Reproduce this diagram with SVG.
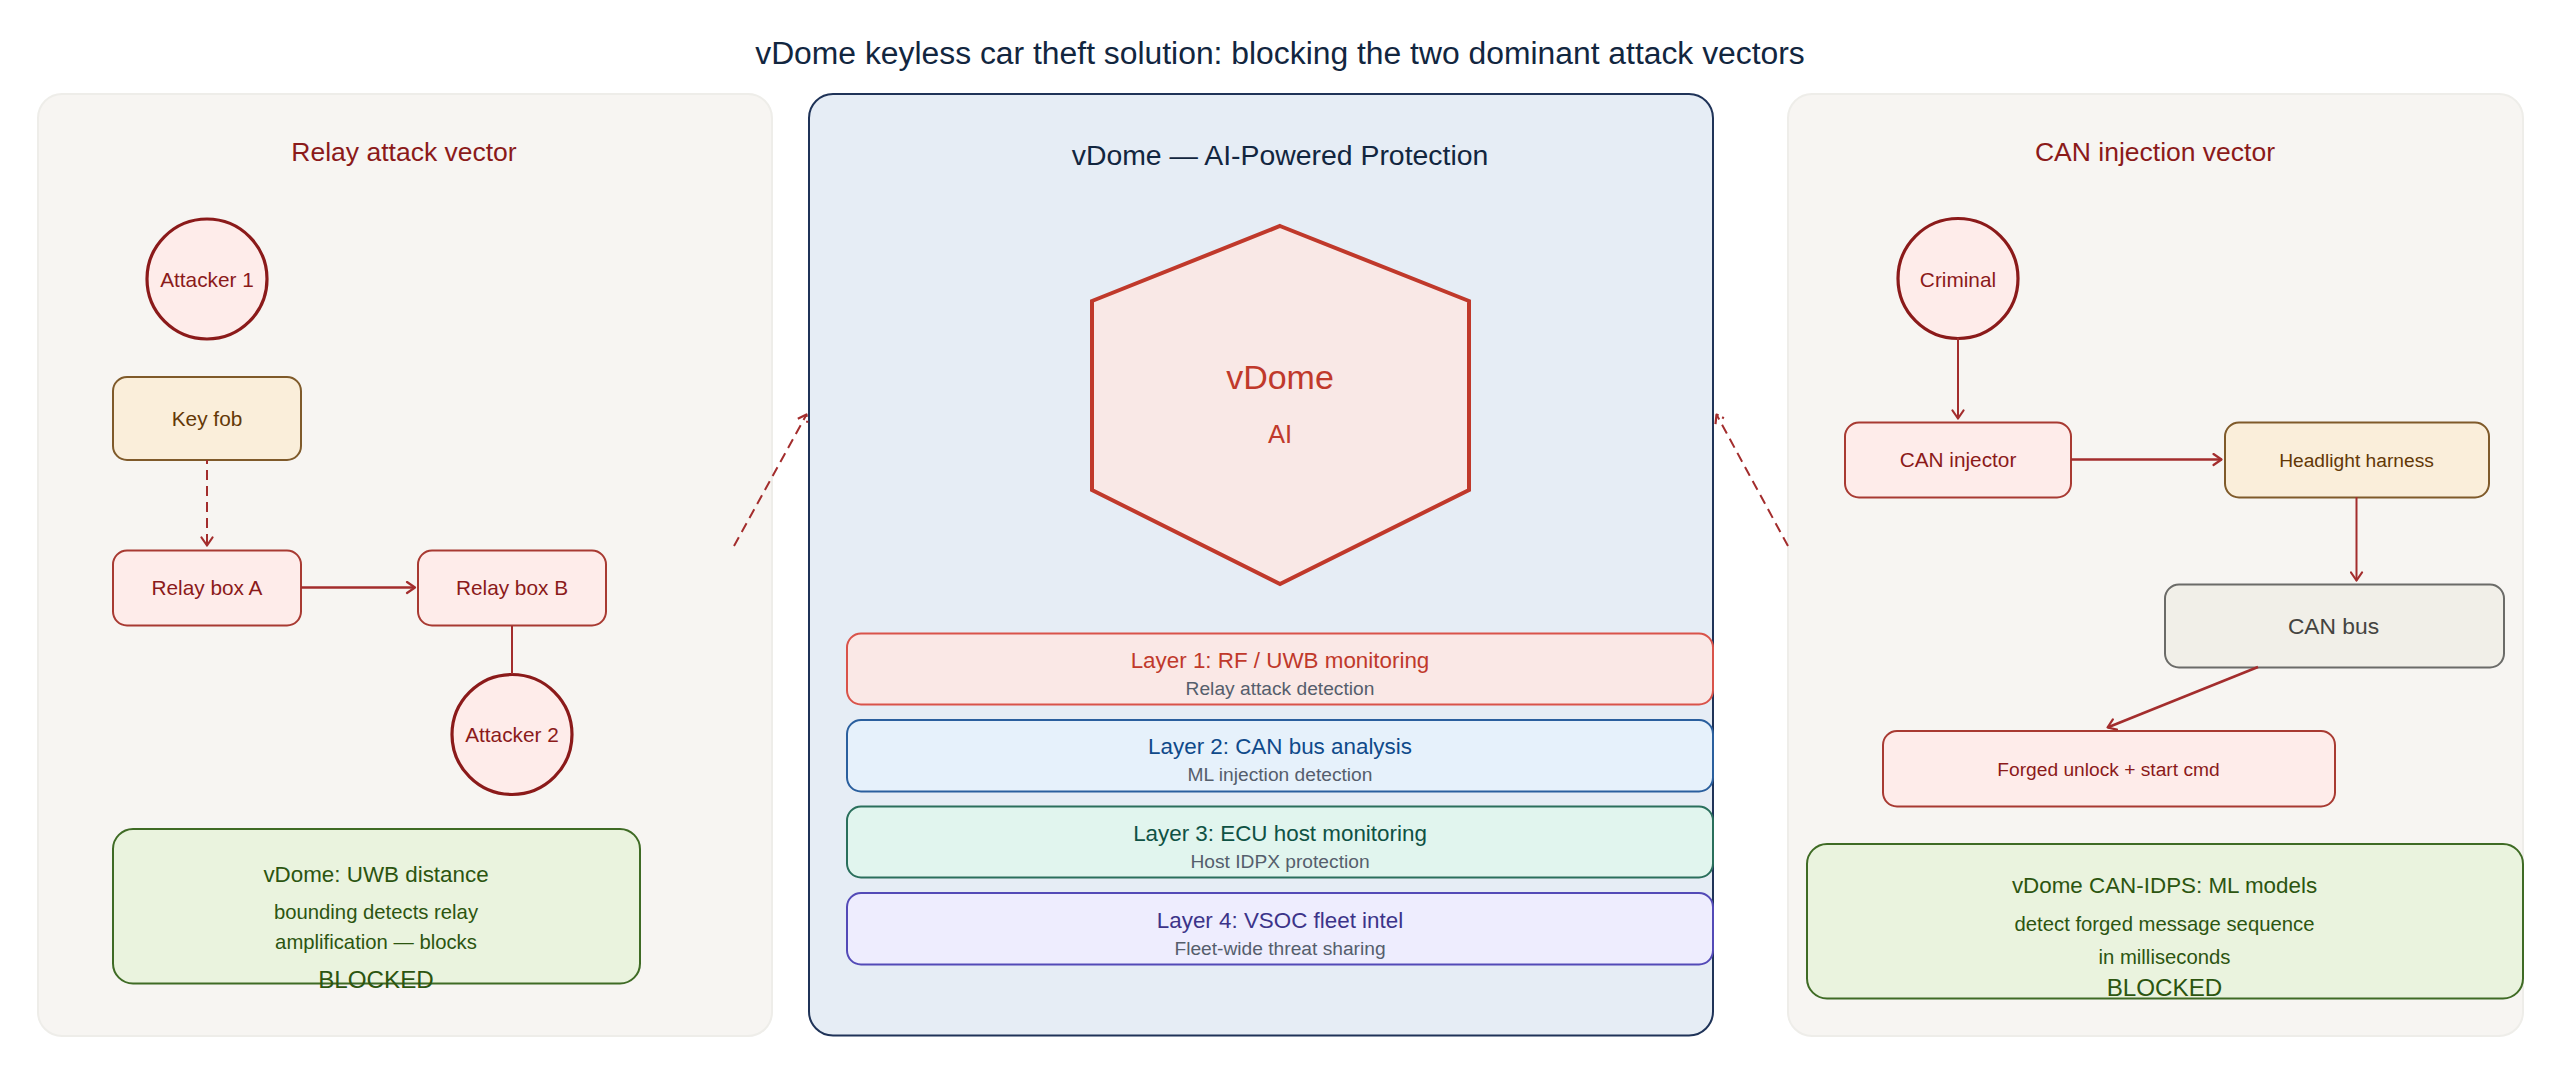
<svg xmlns="http://www.w3.org/2000/svg" width="2560" height="1092" viewBox="0 0 2560 1092">
<style>
text{font-family:"Liberation Sans",Arial,sans-serif;text-anchor:middle}
.panel{fill:#f7f5f2;stroke:#eeede9;stroke-width:2}
.red{fill:#feecea;stroke:#a83a32;stroke-width:2}
.circ{fill:#feecea;stroke:#8b1a1a;stroke-width:3.2}
.amb{fill:#faeeda;stroke:#7f5a2a;stroke-width:2}
.grn{fill:#eaf3de;stroke:#3f6b25;stroke-width:2}
.t-red{fill:#8b1a1a}
.t-amb{fill:#633806}
.t-grn{fill:#2c5510}
.sub{fill:#555e6c;font-size:19.2px}
.lt{font-size:22.400px}
.n{font-size:20.800px}
.g1{font-size:22.400px}
.g2{font-size:20.300px}
.g3{font-size:24.200px}
.c{stroke:#a32d2d;stroke-width:2;fill:none;marker-end:url(#a)}
.h{stroke-width:2.600}
.d{stroke-dasharray:10 6}
.m{marker-end:url(#b)}
.l1{stroke:#d9534a;stroke-width:2;fill:#fae8e6}
.l2{stroke:#2a5f9e;stroke-width:2;fill:#e6f1fb}
.l3{stroke:#2a6f5c;stroke-width:2;fill:#e1f5ee}
.l4{stroke:#534ab7;stroke-width:2;fill:#eeedfe}
</style>
<defs>
<marker id="a" markerUnits="userSpaceOnUse" viewBox="0 0 12 14" refX="10" refY="7" markerWidth="12" markerHeight="14" orient="auto"><path d="M2 1.500L10 7L2 12.500" fill="none" stroke="#a32d2d" stroke-width="2.200" stroke-linecap="round" stroke-linejoin="round"/></marker>
<marker id="b" markerUnits="userSpaceOnUse" viewBox="0 0 12 14" refX="10" refY="7" markerWidth="12" markerHeight="14" orient="auto"><path d="M2 1.500L10 7L2 12.500" fill="none" stroke="#a32d2d" stroke-width="2.200" stroke-dasharray="12 4 2 99" stroke-linejoin="round"/></marker>
</defs>
<text id="title" x="1280" y="63.500" font-size="31.850" fill="#12263f">vDome keyless car theft solution: blocking the two dominant attack vectors</text>
<g id="relay-panel"><rect class="panel" x="38" y="94" width="734" height="942" rx="24"/><text x="404" y="161" font-size="26.500" class="t-red">Relay attack vector</text></g>
<g id="vdome-panel"><rect x="809" y="94" width="904" height="941.500" rx="24" fill="#e6edf5" stroke="#1f3358" stroke-width="2"/><text x="1280" y="165" font-size="28.400" fill="#12263f">vDome — AI-Powered Protection</text></g>
<g id="can-panel"><rect class="panel" x="1788" y="94" width="735" height="942" rx="24"/><text x="2155" y="160.500" font-size="26.500" class="t-red">CAN injection vector</text></g>
<g id="attacker-1"><circle class="circ" cx="207" cy="279" r="60"/><text x="207" y="286.500" class="n t-red">Attacker 1</text></g>
<g id="key-fob"><rect class="amb" x="113" y="377" width="188" height="83" rx="14"/><text x="207" y="426" class="n t-amb">Key fob</text></g>
<g id="relay-a"><rect class="red" x="113" y="550.500" width="188" height="75" rx="14"/><text x="207" y="595" class="n t-red">Relay box A</text></g>
<g id="relay-b"><rect class="red" x="418" y="550.500" width="188" height="75" rx="14"/><text x="512" y="595" class="n t-red">Relay box B</text></g>
<g id="attacker-2"><circle class="circ" cx="512" cy="734.500" r="60"/><text x="512" y="741.500" class="n t-red">Attacker 2</text></g>
<g id="relay-block"><rect class="grn" x="113" y="829" width="527" height="154.500" rx="20"/><text x="376" y="881.500" class="g1 t-grn">vDome: UWB distance</text><text x="376" y="919" class="g2 t-grn">bounding detects relay</text><text x="376" y="949" class="g2 t-grn">amplification — blocks</text><text x="376" y="988" class="g3 t-grn">BLOCKED</text></g>
<g id="hexagon"><polygon points="1280,226 1469,301 1469,490 1280,584 1092,490 1092,301" fill="#f9e8e6" stroke="#c0392b" stroke-width="4"/><text x="1280" y="388.500" font-size="34" fill="#c0392b">vDome</text><text x="1280" y="443" font-size="25.600" fill="#c0392b">AI</text></g>
<g id="layer-1"><rect class="l1" x="847" y="633.500" width="866" height="71" rx="14"/><text x="1280" y="667.500" class="lt" fill="#c0392b">Layer 1: RF / UWB monitoring</text><text x="1280" y="694.500" class="sub">Relay attack detection</text></g>
<g id="layer-2"><rect class="l2" x="847" y="720" width="866" height="71.500" rx="14"/><text x="1280" y="754" class="lt" fill="#0f4a8a">Layer 2: CAN bus analysis</text><text x="1280" y="781" class="sub">ML injection detection</text></g>
<g id="layer-3"><rect class="l3" x="847" y="806.500" width="866" height="71" rx="14"/><text x="1280" y="841" class="lt" fill="#0f5244">Layer 3: ECU host monitoring</text><text x="1280" y="868" class="sub">Host IDPX protection</text></g>
<g id="layer-4"><rect class="l4" x="847" y="893" width="866" height="71.500" rx="14"/><text x="1280" y="927.500" class="lt" fill="#3c3489">Layer 4: VSOC fleet intel</text><text x="1280" y="954.500" class="sub">Fleet-wide threat sharing</text></g>
<g id="criminal"><circle class="circ" cx="1958" cy="278.500" r="60"/><text x="1958" y="286.500" class="n t-red">Criminal</text></g>
<g id="can-injector"><rect class="red" x="1845" y="422.500" width="226" height="75" rx="14"/><text x="1958" y="467" class="n t-red">CAN injector</text></g>
<g id="headlight"><rect class="amb" x="2225" y="422.500" width="264" height="75" rx="14"/><text x="2356.500" y="467" font-size="19.200" class="t-amb">Headlight harness</text></g>
<g id="can-bus"><rect x="2165" y="584.500" width="339" height="83" rx="14" fill="#f1efe8" stroke="#6b6b68" stroke-width="2"/><text x="2333.500" y="633.500" font-size="22.800" fill="#444441">CAN bus</text></g>
<g id="forged"><rect class="red" x="1883" y="731" width="452" height="75.500" rx="14"/><text x="2108.500" y="775.500" font-size="19.200" class="t-red">Forged unlock + start cmd</text></g>
<g id="can-block"><rect class="grn" x="1807" y="844" width="716" height="154.500" rx="20"/><text x="2164.500" y="892.500" class="g1 t-grn">vDome CAN-IDPS: ML models</text><text x="2164.500" y="931" class="g2 t-grn">detect forged message sequence</text><text x="2164.500" y="964" class="g2 t-grn">in milliseconds</text><text x="2164.500" y="995.500" class="g3 t-grn">BLOCKED</text></g>
<g id="connectors">
<path class="c d" stroke-dashoffset="6" style="stroke-dashoffset:6" d="M207 460V545.500"/>
<path class="c h" d="M301 587.500H415"/>
<path class="c" style="marker-end:none" d="M512 626V674"/>
<path class="c d m" d="M734 546L806.500 414.500"/>
<path class="c d m" d="M1788 546L1716.500 414.500"/>
<path class="c" d="M1958 338V418.500"/>
<path class="c h" d="M2071 459.500H2221.500"/>
<path class="c" d="M2356.500 497V580.500"/>
<path class="c h" d="M2258 667L2107.500 727.500"/>
</g>
</svg>
